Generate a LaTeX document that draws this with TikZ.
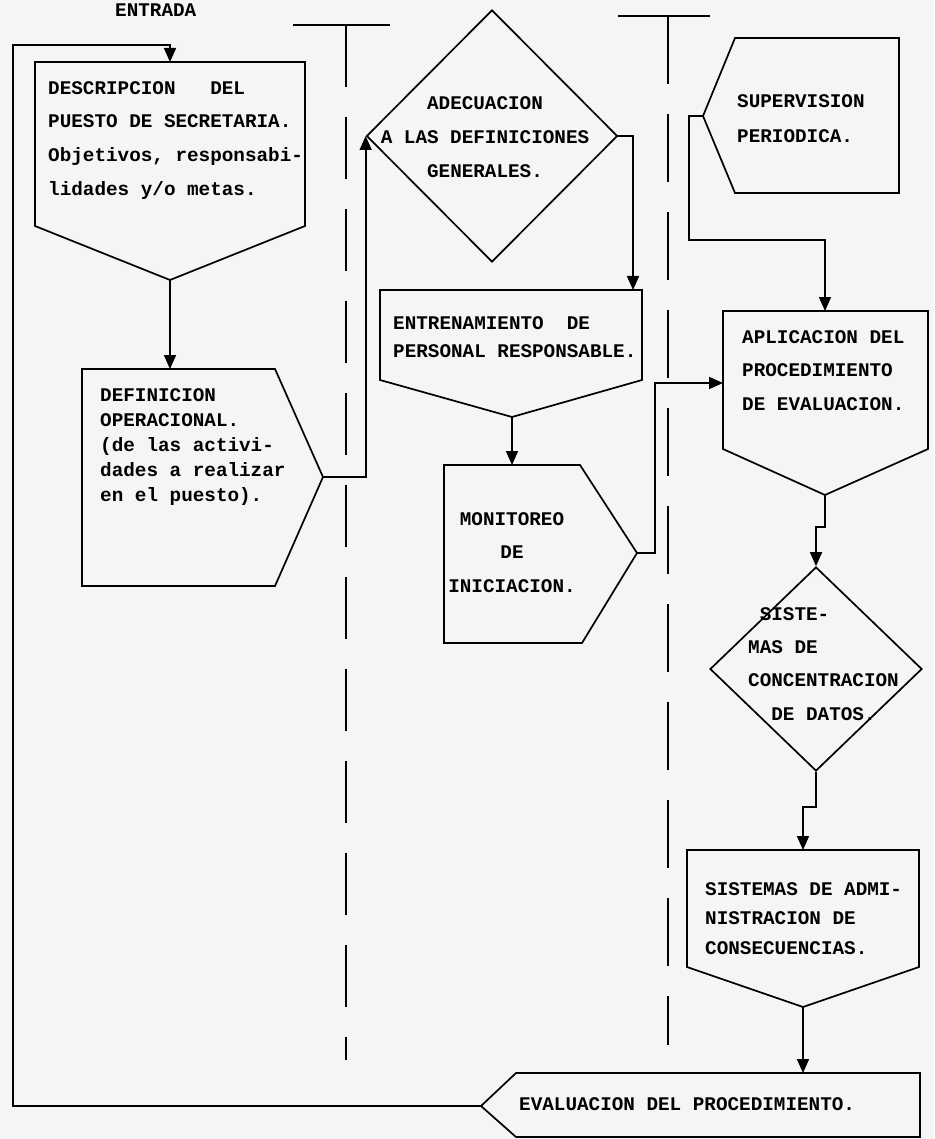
\documentclass[tikz,border=0pt]{standalone}
\usepackage{fontspec}
\setmonofont{Liberation Mono}
\usetikzlibrary{arrows.meta,shapes.geometric}

\begin{document}
\begin{tikzpicture}[x=1pt, y=-1pt,
    box/.style={line width=1.7pt},
    flow/.style={line width=1.7pt, -{Triangle[length=14pt,width=12pt]}},
    lane/.style={line width=1.4pt},
    rombo/.style={diamond, draw, line width=1.7pt, inner sep=0pt},
    txt/.style={font=\ttfamily\bfseries\fontsize{19.3}{#1}\selectfont, align=left, inner sep=0pt},
    txt/.default=33.5]
    \useasboundingbox (0,0) rectangle (934,1139);
    \fill[gray!8] (0,0) rectangle (934,1139);

    % entrada
    \node[txt, anchor=south west] (entrada) at (115,17) {ENTRADA};

    % carriles punteados
    \draw[lane] (293,25) -- (390,25);
    \draw[lane, dash pattern=on 62pt off 30pt] (346,25) -- (346,1060);
    \draw[lane] (618,16) -- (710,16);
    \draw[lane, dash pattern=on 68pt off 30pt] (668,16) -- (668,1045);

    % descripcion del puesto
    \draw[box] (35,62) -- (305,62) -- (305,226) -- (170,280) -- (35,226) -- cycle;
    \coordinate (descIn) at (170,62);
    \coordinate (descOut) at (170,280);
    \node[txt=33.7, anchor=north west] (desc) at (48,81)
        {DESCRIPCION~~~DEL\\PUESTO DE SECRETARIA.\\Objetivos, responsabi-\\lidades y/o metas.};

    % definicion operacional
    \draw[box] (82,369) -- (275,369) -- (323,477) -- (275,586) -- (82,586) -- cycle;
    \coordinate (defIn) at (170,369);
    \coordinate (defOut) at (323,477);
    \node[txt=25, anchor=north west] (defin) at (100,388)
        {DEFINICION\\OPERACIONAL.\\(de las activi-\\dades a realizar\\en el puesto).};

    % adecuacion
    \node[rombo, minimum width=251pt, minimum height=252pt] (adec) at (492,136) {};
    \node[txt=34, align=center, anchor=north] (adecT) at (485,96)
        {ADECUACION\\A LAS DEFINICIONES\\GENERALES.};

    % entrenamiento
    \draw[box] (380,290) -- (642,290) -- (642,380) -- (512,417) -- (380,380) -- cycle;
    \coordinate (entIn) at (633,290);
    \coordinate (entOut) at (512,417);
    \node[txt=28, anchor=north west] (entr) at (393,316)
        {ENTRENAMIENTO~~DE\\PERSONAL RESPONSABLE.};

    % monitoreo
    \draw[box] (444,465) -- (580,465) -- (637,553) -- (582,643) -- (444,643) -- cycle;
    \coordinate (monIn) at (512,465);
    \coordinate (monOut) at (637,553);
    \node[txt=33.5, align=center, anchor=north] (monit) at (512,512)
        {MONITOREO\\DE\\INICIACION.};

    % supervision periodica
    \draw[box] (735,38) -- (899,38) -- (899,193) -- (735,193) -- (703,116) -- cycle;
    \coordinate (supOut) at (703,116);
    \node[txt=35, anchor=north west] (superv) at (737,94)
        {SUPERVISION\\PERIODICA.};

    % aplicacion
    \draw[box] (723,311) -- (928,311) -- (928,449) -- (825,495) -- (723,449) -- cycle;
    \coordinate (aplIn) at (825,311);
    \coordinate (aplSide) at (723,383);
    \coordinate (aplOut) at (825,495);
    \node[txt=33.5, anchor=north west] (aplic) at (742,330)
        {APLICACION DEL\\PROCEDIMIENTO\\DE EVALUACION.};

    % concentracion de datos
    \node[rombo, minimum width=212pt, minimum height=204pt] (sist) at (816,669) {};
    \node[txt=33.3, anchor=north west] (sistT) at (748,607)
        {~SISTE-\\MAS DE\\CONCENTRACION\\~~DE DATOS.};

    % administracion de consecuencias
    \draw[box] (687,850) -- (919,850) -- (919,967) -- (803,1007) -- (687,967) -- cycle;
    \coordinate (admIn) at (803,850);
    \coordinate (admOut) at (803,1007);
    \node[txt=29.5, anchor=north west] (admin) at (705,882)
        {SISTEMAS DE ADMI-\\NISTRACION DE\\CONSECUENCIAS.};

    % evaluacion del procedimiento
    \draw[box] (516,1073) -- (920,1073) -- (920,1137) -- (516,1137) -- (481,1106) -- cycle;
    \coordinate (evalIn) at (803,1073);
    \coordinate (evalOut) at (481,1106);
    \node[txt, anchor=west] (evalT) at (519,1104) {EVALUACION DEL PROCEDIMIENTO.};

    % flechas
    \draw[flow] (descOut) -- (defIn);
    \draw[flow] (defOut) -| (adec.west);
    \draw[flow] (adec.east) -| (entIn);
    \draw[flow] (entOut) -- (monIn);
    \draw[flow] (monOut) -- ++(18,0) |- (aplSide);
    \draw[flow] (supOut) -- ++(-14,0) |- (825,240) -- (aplIn);
    \draw[flow] (aplOut) -- ++(0,32) -| (sist.north);
    \draw[flow] (sist.south) -- ++(0,35) -| (admIn);
    \draw[flow] (admOut) -- (evalIn);

    % retorno
    \draw[flow] (evalOut) -| (13,45) -| (descIn);
\end{tikzpicture}
\end{document}
